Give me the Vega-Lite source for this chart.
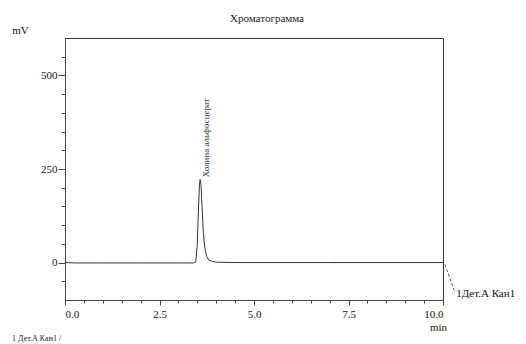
{
  "$schema": "https://vega.github.io/schema/vega-lite/v6.json",
  "width": 378,
  "height": 262,
  "autosize": {"type": "none"},
  "padding": {"left": 65, "top": 38, "right": 83, "bottom": 44},
  "config": {
    "font": "Liberation Serif",
    "view": {"stroke": "#333", "strokeWidth": 1},
    "axis": {"grid": false, "domainColor": "#444", "tickColor": "#444", "labelColor": "#111", "labelFont": "Liberation Serif", "labelFontSize": 11, "titleFont": "Liberation Serif", "titleFontWeight": "normal", "titleFontSize": 11, "titleColor": "#111"}
  },
  "title": {"text": "Хроматограмма", "fontSize": 11, "fontWeight": "normal", "font": "Liberation Serif", "color": "#222", "anchor": "middle", "dx": 13, "offset": 0},
  "datasets": {
    "trace": [
      {"t": 0.0, "mv": 0}, {"t": 0.3, "mv": -1}, {"t": 1.0, "mv": -1}, {"t": 2.0, "mv": -1},
      {"t": 3.0, "mv": -1}, {"t": 3.4, "mv": -1}, {"t": 3.46, "mv": 2}, {"t": 3.5, "mv": 50},
      {"t": 3.53, "mv": 140}, {"t": 3.555, "mv": 205}, {"t": 3.575, "mv": 222}, {"t": 3.6, "mv": 205},
      {"t": 3.63, "mv": 140}, {"t": 3.66, "mv": 80}, {"t": 3.7, "mv": 38}, {"t": 3.75, "mv": 16},
      {"t": 3.8, "mv": 7}, {"t": 3.9, "mv": 3}, {"t": 4.0, "mv": 1}, {"t": 4.5, "mv": 0},
      {"t": 5.0, "mv": 0}, {"t": 7.0, "mv": 0}, {"t": 10.0, "mv": 0}
    ]
  },
  "layer": [
    {
      "data": {"name": "trace"},
      "mark": {"type": "line", "color": "#333", "strokeWidth": 1, "clip": true},
      "encoding": {
        "x": {"field": "t", "type": "quantitative", "scale": {"domain": [0, 10], "nice": false, "zero": false},
          "axis": {"values": [0, 0.5, 1, 1.5, 2, 2.5, 3, 3.5, 4, 4.5, 5, 5.5, 6, 6.5, 7, 7.5, 8, 8.5, 9, 9.5, 10],
            "tickCount": 100,
            "labelExpr": "(datum.value * 2) % 5 == 0 ? format(datum.value, '.1f') : ''",
            "tickSize": {"condition": {"test": "(datum.value * 2) % 5 == 0", "value": 5}, "value": 3},
            "labelPadding": 3, "labelOverlap": false, "title": "min", "titleX": 373, "titleY": 21, "titleAnchor": null, "titleAlign": "center"}},
        "y": {"field": "mv", "type": "quantitative", "scale": {"domain": [-100, 600], "nice": false, "zero": false},
          "axis": {"values": [-50, 0, 50, 100, 150, 200, 250, 300, 350, 400, 450, 500, 550],
            "tickCount": 100,
            "labelExpr": "datum.value % 250 == 0 ? datum.label : ''",
            "tickSize": {"condition": {"test": "datum.value % 250 == 0", "value": 7}, "value": 4},
            "labelPadding": 1, "labelOverlap": false, "title": "mV", "titleAngle": 0, "titleX": -45, "titleY": -8, "titleAlign": "center", "titleBaseline": "middle"}}
      }
    },
    {
      "data": {"values": [{"t": 3.72, "mv": 228, "label": "Холина альфосцерат"}]},
      "mark": {"type": "text", "angle": 270, "align": "left", "baseline": "middle", "fontSize": 9, "font": "Liberation Serif", "color": "#333"},
      "encoding": {
        "x": {"field": "t", "type": "quantitative"},
        "y": {"field": "mv", "type": "quantitative"},
        "text": {"field": "label"}
      }
    },
    {
      "data": {"values": [{"t": 10.05, "mv": -5, "t2": 10.3, "mv2": -75}]},
      "mark": {"type": "rule", "color": "#555", "strokeWidth": 1, "strokeDash": [3, 2], "clip": false},
      "encoding": {
        "x": {"field": "t", "type": "quantitative"},
        "y": {"field": "mv", "type": "quantitative"},
        "x2": {"field": "t2"},
        "y2": {"field": "mv2"}
      }
    },
    {
      "data": {"values": [{"t": 10.35, "mv": -85, "label": "1Дет.А Кан1"}]},
      "mark": {"type": "text", "align": "left", "baseline": "middle", "fontSize": 11, "font": "Liberation Serif", "color": "#111", "clip": false},
      "encoding": {
        "x": {"field": "t", "type": "quantitative"},
        "y": {"field": "mv", "type": "quantitative"},
        "text": {"field": "label"}
      }
    },
    {
      "data": {"values": [{"t": -1.4, "mv": -203, "label": "1  Дет.А Кан1 /"}]},
      "mark": {"type": "text", "align": "left", "baseline": "middle", "fontSize": 8, "font": "Liberation Serif", "color": "#222", "clip": false},
      "encoding": {
        "x": {"field": "t", "type": "quantitative"},
        "y": {"field": "mv", "type": "quantitative"},
        "text": {"field": "label"}
      }
    }
  ]
}
